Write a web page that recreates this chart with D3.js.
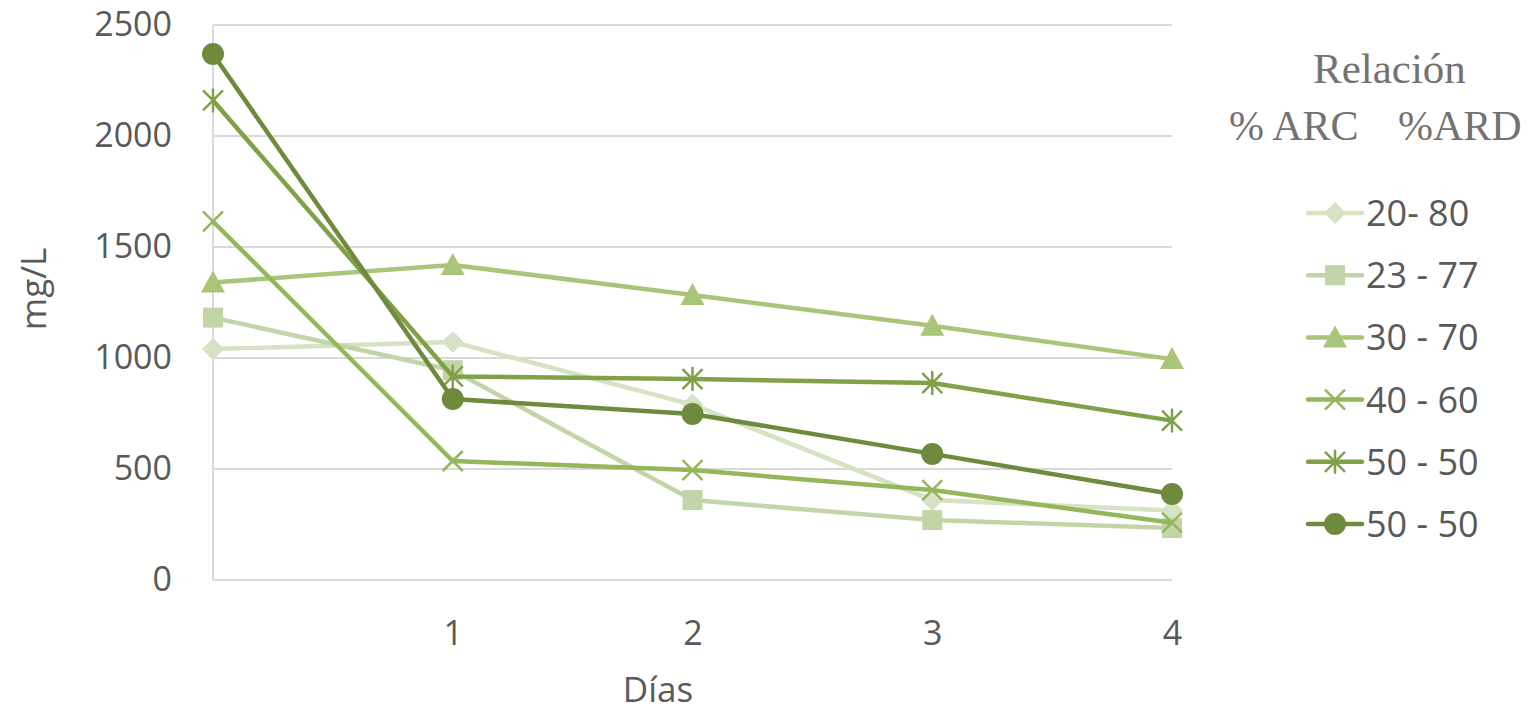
<!DOCTYPE html>
<html><head><meta charset="utf-8">
<script src="https://cdn.jsdelivr.net/npm/d3@7"></script>
<style>body{margin:0;background:#fff}svg{display:block}</style>
</head><body>
<svg id="c" width="1528" height="713"></svg>
<script>
const days = [0, 1, 2, 3, 4];
const xTicks = [1, 2, 3, 4];
const yTicks = [0, 500, 1000, 1500, 2000, 2500];
const seriesNames = ["20- 80", "23 - 77", "30 - 70", "40 - 60", "50 - 50", "50 - 50"];
const s2080 = [1040, 1072, 790, 360, 313];
const s2377 = [1182, 945, 360, 270, 234];
const s3070 = [1340, 1419, 1284, 1145, 995];
const s4060 = [1615, 536, 495, 405, 258];
const s5050a = [2160, 917, 905, 887, 718];
const s5050b = [2369, 815, 748, 568, 387];
const seriesValues = [s2080, s2377, s3070, s4060, s5050a, s5050b];
const colors = ["#d6e2c4", "#c3d5a7", "#a9c57a", "#93b75a", "#7fa248", "#6e8b3d"];
const markers = ["diamond", "square", "triangle", "x", "asterisk", "circle"];

const svg = d3.select("#c");
const x = d3.scaleLinear().domain([0, 4]).range([213, 1172]);
const y = d3.scaleLinear().domain([0, 2500]).range([580, 25]);
const font = "'Open Sans', sans-serif";
const txt = "#595959";
const fs = 35;

// gridlines
svg.append("g").selectAll("line").data(yTicks).join("line")
  .attr("x1", x(0)).attr("x2", x(4)).attr("y1", d => y(d)).attr("y2", d => y(d))
  .attr("stroke", "#d9d9d9").attr("stroke-width", 2);
svg.append("line").attr("x1", x(0)).attr("x2", x(0)).attr("y1", y(2500)).attr("y2", y(0))
  .attr("stroke", "#d9d9d9").attr("stroke-width", 2);

// y axis
const yAxis = d3.axisLeft(y).tickValues(yTicks).tickFormat(d3.format("d")).tickSize(0).tickPadding(41);
const gy = svg.append("g").attr("transform", `translate(${x(0)},0)`).call(yAxis);
gy.select(".domain").remove();
gy.selectAll("text").attr("font-family", font).attr("font-size", 34).attr("fill", txt);

// x axis
const xAxis = d3.axisBottom(x).tickValues(xTicks).tickFormat(d3.format("d")).tickSize(0).tickPadding(41);
const gx = svg.append("g").attr("transform", `translate(0,${y(0)})`).call(xAxis);
gx.select(".domain").remove();
gx.selectAll("text").attr("font-family", font).attr("font-size", 34).attr("fill", txt);

// axis titles
svg.append("text").attr("transform", "translate(46,289) rotate(-90)").attr("text-anchor", "middle")
  .attr("font-family", font).attr("font-size", fs).attr("fill", txt).text("mg/L");
svg.append("text").attr("x", 658).attr("y", 702).attr("text-anchor", "middle")
  .attr("font-family", font).attr("font-size", fs).attr("fill", txt).text("Días");

function drawMarker(g, type, cx, cy, color) {
  const s = 10;
  if (type === "circle") {
    g.append("circle").attr("cx", cx).attr("cy", cy).attr("r", s + 1).attr("fill", color);
  } else if (type === "square") {
    g.append("rect").attr("x", cx - s).attr("y", cy - s).attr("width", 2 * s).attr("height", 2 * s).attr("fill", color);
  } else if (type === "diamond") {
    g.append("path").attr("d", `M${cx},${cy - s - 1}L${cx + s + 1},${cy}L${cx},${cy + s + 1}L${cx - s - 1},${cy}Z`).attr("fill", color);
  } else if (type === "triangle") {
    g.append("path").attr("d", `M${cx},${cy - s - 2}L${cx + s + 2},${cy + s}L${cx - s - 2},${cy + s}Z`).attr("fill", color);
  } else if (type === "x" || type === "asterisk") {
    const a = s;
    g.append("path").attr("d", `M${cx - a},${cy - a}L${cx + a},${cy + a}M${cx + a},${cy - a}L${cx - a},${cy + a}` + (type === "asterisk" ? `M${cx},${cy - a - 2}L${cx},${cy + a + 2}` : ""))
      .attr("stroke", color).attr("stroke-width", 2.5).attr("fill", "none");
  }
}

const line = d3.line().x((d, i) => x(days[i])).y(d => y(d));
seriesValues.forEach((vals, k) => {
  const g = svg.append("g");
  g.append("path").datum(vals).attr("d", line).attr("fill", "none")
    .attr("stroke", colors[k]).attr("stroke-width", 4.5).attr("stroke-linejoin", "round");
  vals.forEach((v, i) => drawMarker(g, markers[k], x(days[i]), y(v), colors[k]));
});

// legend
const serif = "'Liberation Serif', serif";
svg.append("text").attr("x", 1313).attr("y", 83).attr("font-family", serif)
  .attr("font-size", 43).attr("fill", "#767171").text("Relación");
svg.append("text").attr("x", 1229).attr("y", 140).attr("font-family", serif)
  .attr("font-size", 42).attr("fill", "#767171").text("% ARC");
svg.append("text").attr("x", 1398).attr("y", 140).attr("font-family", serif)
  .attr("font-size", 42).attr("fill", "#767171").text("%ARD");

const ly = d3.scalePoint().domain(d3.range(seriesNames.length)).range([213, 524]);
seriesNames.forEach((name, k) => {
  const g = svg.append("g");
  const yy = ly(k);
  g.append("line").attr("x1", 1308).attr("x2", 1362).attr("y1", yy).attr("y2", yy)
    .attr("stroke", colors[k]).attr("stroke-width", 4.5).attr("stroke-linecap", "round");
  drawMarker(g, markers[k], 1335, yy, colors[k]);
  g.append("text").attr("x", 1366).attr("y", yy + 13).attr("font-family", font)
    .attr("font-size", 36).attr("fill", txt).text(name);
});
</script>
</body></html>
